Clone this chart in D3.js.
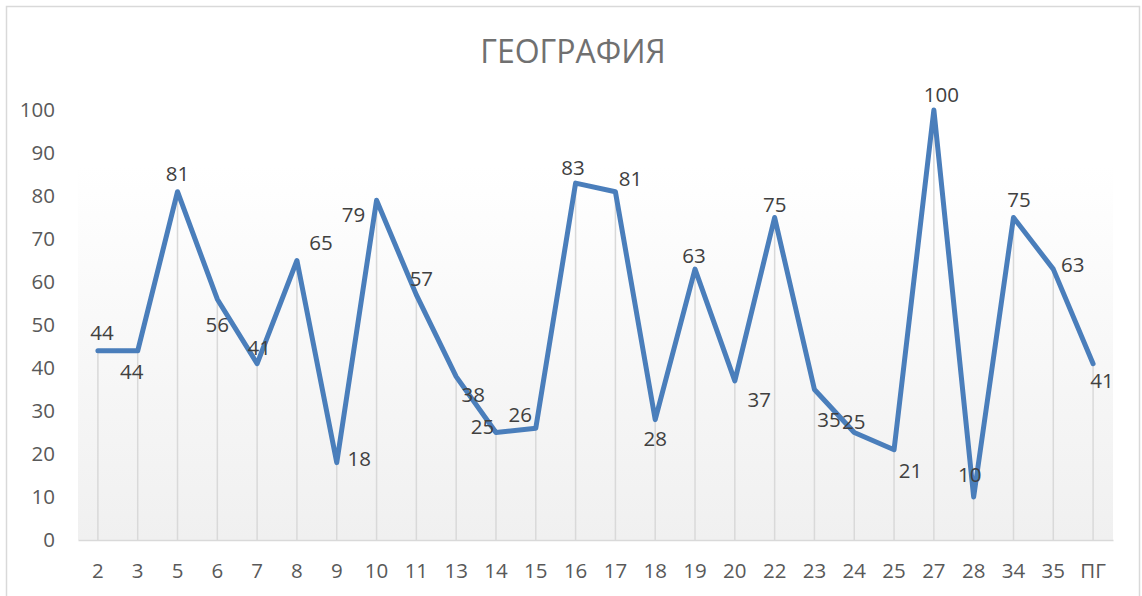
<!DOCTYPE html>
<html><head><meta charset="utf-8">
<script src="https://cdn.jsdelivr.net/npm/d3@7"></script>
<style>html,body{margin:0;padding:0;background:#fff;}</style>
</head><body>
<svg id="chart" width="1142" height="596"></svg>
<script>
const title = "ГЕОГРАФИЯ";
const categories = ["2","3","5","6","7","8","9","10","11","13","14","15","16","17","18","19","20","22","23","24","25","27","28","34","35","ПГ"];
const values = [44,44,81,56,41,65,18,79,57,38,25,26,83,81,28,63,37,75,35,25,21,100,10,75,63,41];
const yTicks = [0,10,20,30,40,50,60,70,80,90,100];
// label placement (dx, dy from point), layout only
const labelOffsets = [[4,-18],[-6,21],[0,-17.5],[0,25.5],[2,-16],[24,-18],[22.5,-3.5],[-23,14.5],[5,-16],[17,18],[-13.5,-5.5],[-15.5,-13.5],[-2.5,-15],[15,-12.5],[0,19.5],[-1,-13.5],[24.5,18.5],[0,-12.5],[14.5,30.5],[-0.5,-10.5],[16.5,21.5],[7.5,-15],[-4,-22.5],[5.5,-17.5],[19.5,-4.5],[9,17.5]];

const svg = d3.select("#chart");
const font = "'Open Sans','Noto Sans',sans-serif";
const m = {left:78, right:1113, top:110, bottom:540};

svg.append("rect").attr("x",6.5).attr("y",6.5).attr("width",1133).attr("height",600)
  .attr("fill","#fff").attr("stroke","#d9d9d9").attr("stroke-width",1.5);

const defs = svg.append("defs");
const g = defs.append("linearGradient").attr("id","bg").attr("x1",0).attr("y1",0).attr("x2",0).attr("y2",1);
g.append("stop").attr("offset","0%").attr("stop-color","#ffffff");
g.append("stop").attr("offset","100%").attr("stop-color","#f0f0f0");

const x = d3.scaleBand().domain(categories).range([m.left, m.right]);
const y = d3.scaleLinear().domain([0,100]).range([m.bottom, m.top]);

svg.append("rect").attr("x",m.left).attr("y",y(87)).attr("width",m.right-m.left)
  .attr("height",m.bottom-y(87)).attr("fill","url(#bg)");

svg.append("text").attr("x",573).attr("y",63).attr("text-anchor","middle")
  .attr("font-family",font).attr("font-size",32).attr("fill","#707070").text(title);

// y axis
const yAxis = d3.axisLeft(y).tickValues(yTicks).tickSize(0).tickPadding(23);
const ya = svg.append("g").attr("transform",`translate(${m.left},0)`).call(yAxis);
ya.select(".domain").remove();
ya.selectAll("text").attr("font-family",font).attr("font-size",20.5).attr("fill","#595959");

// x axis
const xAxis = d3.axisBottom(x).tickSize(0).tickPadding(23);
const xa = svg.append("g").attr("transform",`translate(0,${m.bottom})`).call(xAxis);
xa.select(".domain").attr("stroke","#d9d9d9").attr("stroke-width",1.5);
xa.selectAll("text").attr("font-family",font).attr("font-size",20.5).attr("fill","#595959");

const cx = c => x(c) + x.bandwidth()/2;
const pts = categories.map((c,i)=>({c, v:values[i], i}));

// drop lines
svg.append("g").selectAll("line").data(pts).join("line")
  .attr("x1",d=>cx(d.c)).attr("x2",d=>cx(d.c))
  .attr("y1",d=>y(d.v)).attr("y2",m.bottom)
  .attr("stroke","#d9d9d9").attr("stroke-width",1.5);

const line = d3.line().x(d=>cx(d.c)).y(d=>y(d.v));
svg.append("path").datum(pts).attr("d",line).attr("fill","none")
  .attr("stroke","#4a7ebb").attr("stroke-width",5).attr("stroke-linejoin","round").attr("stroke-linecap","round");

svg.append("g").selectAll("text").data(pts).join("text")
  .attr("x",d=>cx(d.c)+labelOffsets[d.i][0]).attr("y",d=>y(d.v)+labelOffsets[d.i][1])
  .attr("dy","0.35em").attr("text-anchor","middle")
  .attr("font-family",font).attr("font-size",20.5).attr("fill","#404040")
  .text(d=>d.v);
</script>
</body></html>
